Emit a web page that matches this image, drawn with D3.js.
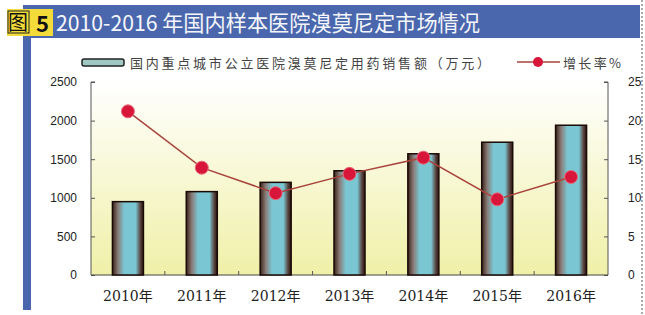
<!DOCTYPE html>
<html>
<head>
<meta charset="utf-8">
<script src="https://cdn.jsdelivr.net/npm/d3@7"></script>
<style>
  body { margin: 0; background: #fff; }
  svg { display: block; }
</style>
</head>
<body>
<div id="chart"></div>
<script>
const years = ["2010年", "2011年", "2012年", "2013年", "2014年", "2015年", "2016年"];
const sales = [950, 1080, 1200, 1350, 1570, 1720, 1940];
const growth = [21.2, 13.9, 10.6, 13.1, 15.2, 9.8, 12.7];
const leftTicks = [0, 500, 1000, 1500, 2000, 2500];
const rightTicks = [0, 5, 10, 15, 20, 25];

const W = 645, H = 315;
const plot = { left: 91, right: 608, top: 82, bottom: 275 };

const svg = d3.select("#chart").append("svg")
  .attr("width", W).attr("height", H);

const defs = svg.append("defs");
const bg = defs.append("linearGradient").attr("id", "bg")
  .attr("x1", 0).attr("y1", 0).attr("x2", 0).attr("y2", 1);
bg.append("stop").attr("offset", "0%").attr("stop-color", "#ffffff");
bg.append("stop").attr("offset", "100%").attr("stop-color", "#f0f0a8");

const barG = defs.append("linearGradient").attr("id", "bar")
  .attr("x1", 0).attr("y1", 0).attr("x2", 1).attr("y2", 0);
[["0%", "#3a2218"], ["18%", "#8a7c78"], ["38%", "#7ac6d2"], ["75%", "#7ac6d2"], ["90%", "#5a4440"], ["100%", "#2a1410"]]
  .forEach(([o, c]) => barG.append("stop").attr("offset", o).attr("stop-color", c));

// title band
svg.append("rect").attr("x", 23).attr("y", 5).attr("width", 617).attr("height", 33).attr("fill", "#4a67ad");
svg.append("rect").attr("x", 23).attr("y", 38).attr("width", 8).attr("height", 272).attr("fill", "#4a67ad");
svg.append("rect").attr("x", 7).attr("y", 9).attr("width", 46).attr("height", 27).attr("fill", "#f3dc3a");
svg.append("rect").attr("x", 8).attr("y", 11).attr("width", 21).attr("height", 22)
  .attr("fill", "none").attr("stroke", "#222").attr("stroke-width", 1);
svg.append("text").attr("x", 8).attr("y", 30)
  .attr("font-family", "Noto Sans CJK SC").attr("font-size", 20)
  .attr("fill", "#111").text("图");
svg.append("text").attr("x", 36).attr("y", 32)
  .attr("font-family", "Noto Sans CJK SC").attr("font-size", 22).attr("font-weight", "bold")
  .attr("fill", "#111").text("5");
svg.append("text").attr("x", 56).attr("y", 31)
  .attr("font-family", "Noto Sans CJK SC").attr("font-size", 22)
  .attr("textLength", 424).attr("lengthAdjust", "spacingAndGlyphs")
  .attr("fill", "#f4f6fb").text("2010-2016 年国内样本医院溴莫尼定市场情况");

// right dotted border
svg.append("line").attr("x1", 642).attr("x2", 642).attr("y1", 0).attr("y2", H)
  .attr("stroke", "#555").attr("stroke-dasharray", "2,2");

// plot background
svg.append("rect").attr("x", plot.left).attr("y", plot.top)
  .attr("width", plot.right - plot.left).attr("height", plot.bottom - plot.top)
  .attr("fill", "url(#bg)");

const x = d3.scaleBand().domain(years).range([plot.left, plot.right]).paddingInner(0.58).paddingOuter(0.29);
const yL = d3.scaleLinear().domain([0, 2500]).range([plot.bottom, plot.top]);
const yR = d3.scaleLinear().domain([0, 25]).range([plot.bottom, plot.top]);

const tickFont = "Liberation Sans, Arial, sans-serif";

// left axis
const axL = svg.append("g").attr("transform", `translate(${plot.left},0)`)
  .call(d3.axisLeft(yL).tickValues(leftTicks).tickFormat(d3.format("d")).tickSize(4).tickPadding(10));
axL.select(".domain").attr("stroke", "#555").attr("d", `M4,${plot.top}H0V${plot.bottom}`);
axL.selectAll(".tick line").attr("stroke", "#555").attr("x2", 4);
axL.selectAll("text").attr("font-family", tickFont).attr("font-size", 12).attr("fill", "#222");

// right axis
const axR = svg.append("g").attr("transform", `translate(${plot.right},0)`)
  .call(d3.axisRight(yR).tickValues(rightTicks).tickSize(4).tickPadding(16));
axR.select(".domain").attr("stroke", "#555").attr("d", `M-4,${plot.top}H0V${plot.bottom}`);
axR.selectAll(".tick line").attr("stroke", "#555").attr("x2", -4);
axR.selectAll("text").attr("font-family", tickFont).attr("font-size", 12).attr("fill", "#222");

// bottom axis
const axB = svg.append("g").attr("transform", `translate(0,${plot.bottom})`)
  .call(d3.axisBottom(x).tickSize(0).tickPadding(16));
axB.select(".domain").attr("stroke", "#444").attr("d", `M${plot.left},0H${plot.right}`);
axB.selectAll("text").attr("font-family", "DejaVu Serif, Noto Sans CJK SC").attr("font-size", 14).attr("fill", "#222");
// category separators
const gap = (x.step() - x.bandwidth()) / 2;
axB.selectAll("line.sep").data(years.slice(1)).enter().append("line").attr("class", "sep")
  .attr("x1", d => x(d) - gap)
  .attr("x2", d => x(d) - gap)
  .attr("y1", 0).attr("y2", -4).attr("stroke", "#555");

// bars
svg.append("g").selectAll("rect").data(years).enter().append("rect")
  .attr("x", d => x(d))
  .attr("y", (d, i) => yL(sales[i]))
  .attr("width", x.bandwidth())
  .attr("height", (d, i) => plot.bottom - yL(sales[i]))
  .attr("fill", "url(#bar)")
  .attr("stroke", "#1a0a06").attr("stroke-width", 1.5);

// growth line
const cx = d => x(d) + x.bandwidth() / 2;
const line = d3.line().x(d => cx(d[0])).y(d => yR(d[1]));
svg.append("path").datum(years.map((d, i) => [d, growth[i]]))
  .attr("d", line).attr("fill", "none").attr("stroke", "#a8443c").attr("stroke-width", 1.5);
svg.append("g").selectAll("circle").data(years).enter().append("circle")
  .attr("cx", cx).attr("cy", (d, i) => yR(growth[i])).attr("r", 6.5)
  .attr("fill", "#d8163a").attr("stroke", "#e86a7a").attr("stroke-width", 1);

// legend
const lg = svg.append("g");
lg.append("rect").attr("x", 82).attr("y", 59).attr("width", 42).attr("height", 7).attr("rx", 2)
  .attr("fill", "#9fc8c4").attr("stroke", "#222").attr("stroke-width", 1.5);
lg.append("text").attr("x", 130).attr("y", 68)
  .attr("font-family", "Noto Sans CJK SC").attr("font-size", 13).attr("fill", "#444")
  .attr("textLength", 360).attr("lengthAdjust", "spacing")
  .text("国内重点城市公立医院溴莫尼定用药销售额（万元）");
lg.append("line").attr("x1", 517).attr("x2", 560).attr("y1", 62).attr("y2", 62)
  .attr("stroke", "#a8443c").attr("stroke-width", 1.5);
lg.append("circle").attr("cx", 538).attr("cy", 62).attr("r", 5).attr("fill", "#d8163a");
lg.append("text").attr("x", 563).attr("y", 68)
  .attr("font-family", "Noto Sans CJK SC").attr("font-size", 13).attr("fill", "#444")
  .attr("textLength", 58).attr("lengthAdjust", "spacing")
  .text("增长率%");
</script>
</body>
</html>
